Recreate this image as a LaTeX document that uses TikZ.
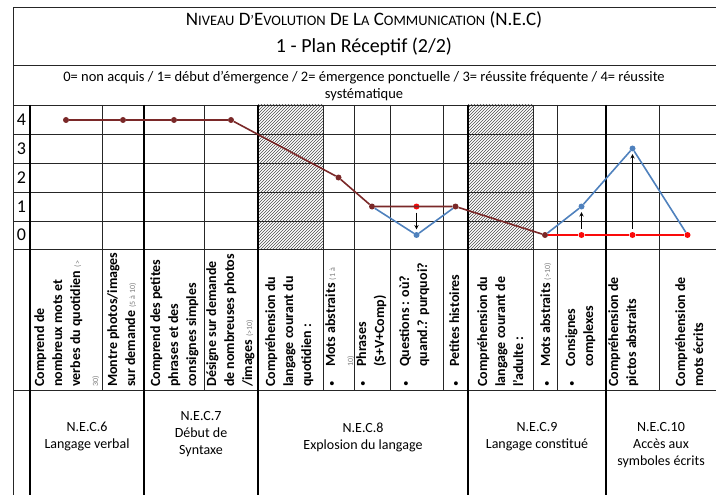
\documentclass[tikz,border=0pt]{standalone}
\usepackage{fontspec}
\setmainfont{Carlito}
\usetikzlibrary{patterns}
\definecolor{necbrown}{RGB}{122,40,40}
\definecolor{necblue}{RGB}{79,129,189}
\definecolor{necred}{RGB}{250,10,10}
\newcommand{\fakesc}[2]{#1{\fontsize{14.5}{16}\selectfont #2}}
\newcommand{\petit}[1]{{\fontsize{8}{9}\selectfont\mdseries\color{gray}#1}}
\newcommand{\puce}{\makebox[20pt][l]{\mdseries\fontsize{11}{11}\selectfont •}}
\newcommand{\retrait}{\hspace*{20pt}}
\begin{document}
\begin{tikzpicture}[x=1pt,y=-1pt,thin line/.style={line width=0.7pt,black!85},thick line/.style={line width=1.6pt},
  dot/.style={circle,fill,inner sep=0pt,minimum size=6pt},
  col label/.style={rotate=90,anchor=north west,align=left,inner sep=1pt,font=\bfseries\fontsize{14}{18}\selectfont},
  nec label/.style={anchor=north,align=center,font=\fontsize{14}{17}\selectfont},
  score/.style={font=\fontsize{18}{20}\selectfont},
  arrow/.style={->,>=stealth,line width=0.9pt,shorten <=3pt,shorten >=2.5pt}]

                    \useasboundingbox (0,0) rectangle (716,495);

                    \fill[pattern=north east lines,pattern color=gray!60!black] (258,105) rectangle (323,249);
                    \fill[pattern=north east lines,pattern color=gray!60!black] (468,105) rectangle (533,249);

                    \draw[thin line] (716,7) -- (13,7) -- (13,495);
                    \foreach \y in {65,105,134,163,192,221,249,390}
                        \draw[thin line] (13,\y) -- (716,\y);
                    \foreach \x in {102,204,323,354,390,443,533,557,659}
                        \draw[thin line] (\x,105) -- (\x,390);
                    \foreach \x in {30,144,258,468,606}
                        \draw[thick line] (\x,105) -- (\x,495);

                    \node[font=\fontsize{19}{21}\selectfont] at (364,20) (title) {\fakesc{N}{IVEAU} \fakesc{D}{’}\fakesc{E}{VOLUTION} \fakesc{D}{E} \fakesc{L}{A} \fakesc{C}{OMMUNICATION} (N.E.C)};
                    \node[font=\fontsize{20}{22}\selectfont] at (364,47) (sub) {1 - Plan Réceptif (2/2)};
                    \node[align=center,font=\fontsize{14.5}{17}\selectfont] at (364,86) (legend) {0= non acquis / 1= début d{\char"27}émergence / 2= émergence ponctuelle / 3= réussite fréquente / 4= réussite\\systématique};

                    \foreach \v/\y in {4/120,3/148.5,2/177.5,1/206.5,0/235}
                        \node[score] at (21.5,\y) (s\v) {\v};

                    \node[col label] at (33,388) (l1) {Comprend de\\nombreux mots  et\\verbes du quotidien \petit{(>}\\\petit{30)}};
                    \node[col label] at (106,388) (l2) {Montre photos/images\\sur demande \petit{(5 à 10)}};
                    \node[col label] at (149,388) (l3) {Comprend des petites\\phrases et des\\consignes simples};
                    \node[col label] at (205,388) (l4) {Désigne  sur demande\\de nombreuses photos\\/images \petit{(>10)}};
                    \node[col label] at (264,388) (l5) {Compréhension du\\langage courant du\\quotidien :};
                    \node[col label] at (324,388) (l6) {\puce Mots abstraits \petit{(1 à}\\\retrait\petit{10)}};
                    \node[col label] at (355,388) (l7) {\puce Phrases\\\retrait(S+V+Comp)};
                    \node[col label] at (398,388) (l8) {\puce Questions : où?\\\retrait quand.? purquoi?};
                    \node[col label] at (448,388) (l9) {\puce Petites histoires};
                    \node[col label] at (476,388) (l10) {Compréhension du\\langage courant de\\l{\char"27}adulte :};
                    \node[col label] at (539,388) (l11) {\puce Mots abstraits \petit{(>10)}};
                    \node[col label] at (564,388) (l12) {\puce Consignes\\\retrait complexes};
                    \node[col label] at (607,388) (l13) {Compréhension de\\pictos abstraits};
                    \node[col label] at (674,388) (l14) {Compréhension de\\mots écrits};

                    \node[nec label] at (87,419) (nec6) {N.E.C.6\\Langage verbal};
                    \node[nec label] at (201,408) (nec7) {N.E.C.7\\Début de\\Syntaxe};
                    \node[nec label] at (363,419) (nec8) {N.E.C.8\\Explosion du langage};
                    \node[nec label] at (537,419) (nec9) {N.E.C.9\\Langage constitué};
                    \node[nec label] at (661,419) (nec10) {N.E.C.10\\Accès aux\\symboles écrits};

                    \node[dot,necbrown] at (66,120) (b1) {};
                    \node[dot,necbrown] at (123,120) (b2) {};
                    \node[dot,necbrown] at (174,120) (b3) {};
                    \node[dot,necbrown] at (231,120) (b4) {};
                    \node[dot,necbrown] at (338.5,177.5) (b5) {};
                    \node[dot,necbrown] at (372,206.5) (b6) {};
                    \node[dot,necbrown] at (455.5,206.5) (b7) {};
                    \node[dot,necbrown] at (545,235) (b8) {};
                    \node[dot,necred] at (416.5,206.5) (r1) {};
                    \node[dot,necred] at (581.5,235) (r2) {};
                    \node[dot,necred] at (632.5,235) (r3) {};
                    \node[dot,necred] at (687.5,235) (r4) {};
                    \node[dot,necblue] at (416.5,235) (u1) {};
                    \node[dot,necblue] at (581.5,206.5) (u2) {};
                    \node[dot,necblue] at (632.5,148.5) (u3) {};

                    \draw[necblue,line width=1.6pt] (b6) -- (u1) -- (b7);
                    \draw[necblue,line width=1.6pt] (b8) -- (u2) -- (u3) -- (r4);
                    \draw[necred,line width=1.6pt] (b6) -- (r1) -- (b7);
                    \draw[necred,line width=1.6pt] (b8) -- (r2) -- (r3) -- (r4);
                    \draw[necbrown,line width=1.6pt] (b1) -- (b2) -- (b3) -- (b4) -- (b5) -- (b6) -- (b7) -- (b8);

                    \path[arrow] (r1) edge (u1);
                    \path[arrow] (r2) edge (u2);
                    \path[arrow] (r3) edge (u3);
                \end{tikzpicture}
\end{document}
